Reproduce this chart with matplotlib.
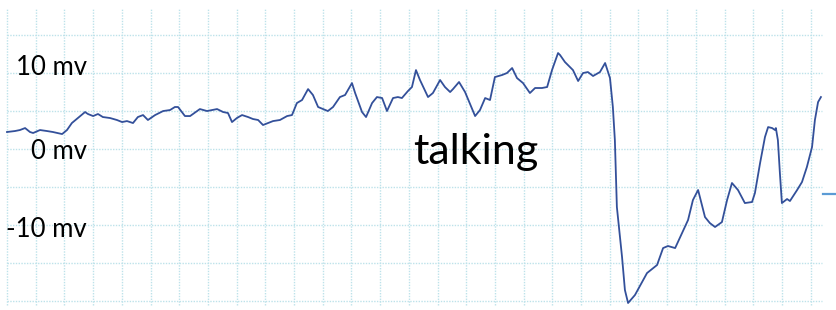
import numpy as np
import matplotlib.pyplot as plt

# trace: time (grid units) and potential (mV)
t = [0, 0.28, 0.45, 0.63, 0.80, 0.91, 1.15, 1.39, 1.60, 1.92, 2.09, 2.26, 2.47, 2.72,
     2.82, 3.00, 3.17, 3.34, 3.59, 3.83, 4.01, 4.18, 4.39, 4.56, 4.74, 4.91, 5.16, 5.44,
     5.68, 5.85, 5.96, 6.20, 6.38, 6.72, 6.97, 7.32, 7.53, 7.70, 7.84, 8.01, 8.19, 8.40,
     8.57, 8.75, 8.92, 9.09, 9.27, 9.51, 9.76, 9.93, 10.10, 10.28, 10.49, 10.66, 10.84,
     11.01, 11.18, 11.36, 11.60, 11.78, 12.02, 12.13, 12.37, 12.51, 12.72, 12.89, 13.07,
     13.24, 13.45, 13.62, 13.76, 13.97, 14.11, 14.25, 14.39, 14.67, 14.84, 15.09, 15.26,
     15.44, 15.54, 15.75, 15.96, 16.31, 16.48, 16.66, 16.83, 17.00, 17.25, 17.42, 17.60,
     17.77, 17.98, 18.22, 18.40, 18.64, 18.82, 18.99, 19.20, 19.27, 19.44, 19.72, 19.90,
     20.07, 20.24, 20.42, 20.66, 20.84, 21.01, 21.11, 21.18, 21.25, 21.43, 21.53, 21.64,
     21.88, 22.30, 22.65, 22.86, 23.03, 23.28, 23.52, 23.73, 23.90, 24.08, 24.32, 24.49,
     24.67, 24.91, 25.09, 25.26, 25.47, 25.71, 25.96, 26.06, 26.24, 26.41, 26.52, 26.66,
     26.76, 26.79, 26.86, 26.93, 27.00, 27.18, 27.28, 27.53, 27.70, 27.87, 28.05, 28.15,
     28.26, 28.36]
mv = [2.24, 2.37, 2.50, 2.76, 2.24, 2.11, 2.50, 2.37, 2.24, 1.97, 2.50, 3.42, 4.08, 4.87,
      4.61, 4.34, 4.61, 4.21, 4.08, 3.82, 3.55, 3.68, 3.42, 4.21, 4.47, 3.82, 4.47, 5.00,
      5.13, 5.53, 5.53, 4.34, 4.34, 5.26, 5.00, 5.26, 4.87, 4.74, 3.55, 4.08, 4.47, 4.21,
      3.95, 3.82, 3.16, 3.42, 3.68, 3.82, 4.34, 4.47, 6.05, 6.45, 7.89, 7.11, 5.53,
      5.26, 5.00, 5.53, 6.84, 7.11, 8.68, 7.37, 4.87, 4.21, 6.05, 6.84, 6.71,
      5.00, 6.71, 6.84, 6.71, 7.63, 8.16, 10.39, 9.08, 6.84, 7.37, 9.08, 8.16,
      7.50, 7.89, 8.82, 7.50, 4.34, 5.13, 6.71, 6.45, 9.47, 9.74, 10.00, 10.66,
      9.34, 8.68, 7.37, 8.03, 8.03, 8.16, 10.39, 12.63, 12.37, 11.45, 10.39, 8.95,
      10.00, 10.13, 9.61, 10.13, 11.32, 9.34, 5.53, 1.18, -7.63, -14.21, -18.55, -20.26,
      -19.21, -16.32, -15.26, -13.03, -12.76, -13.03, -11.05, -9.34, -6.71, -5.39, -8.95, -9.74,
      -10.26, -9.61, -6.71, -4.47, -5.39, -7.11, -6.97, -5.79, -1.84, 1.58, 2.89, 2.76,
      2.50, 2.76, 1.18, -3.16, -7.11, -6.58, -6.84, -5.39, -4.34, -2.37, 0.26, 3.82,
      6.18, 6.84]

label_text = ["10 mv", "0 mv", "-10 mv"]
label_y = [9.74, -1.32, -11.58]
grid_x = np.arange(0, 29)
grid_y = [15, 10, 5, 0, -5, -10, -15, -20]
stub_y = -5.9

fig = plt.figure(figsize=(8.36, 3.10), dpi=100)
ax = fig.add_axes([0, 0, 1, 1])
ax.set_xlim(-0.244, 28.885)
ax.set_ylim(-21.18, 19.61)
ax.axis("off")

# dotted graph-paper grid
grid_col = "#bde2ea"
ax.vlines(grid_x, -20.5, 18.5, colors=grid_col, linestyles=(0, (1, 1)), linewidth=1)
ax.hlines(grid_y, 0, 28.4, colors=grid_col, linestyles=(0, (1, 1)), linewidth=1)

ax.plot(t, mv, color="#33509a", linewidth=1.3)
ax.plot([28.42, 29.0], [stub_y, stub_y], color="#5b9bd5", linewidth=1.6)

for lbl, yy in zip(label_text, label_y):
    ax.text(2.79, yy, lbl, ha="right", va="baseline", fontsize=18.5,
            family="Lato", color="black")

ax.text(14.15, -1.97, "talking", ha="left", va="baseline", fontsize=31,
        family="Lato", color="black")

fig.savefig("out.png", dpi=100)
